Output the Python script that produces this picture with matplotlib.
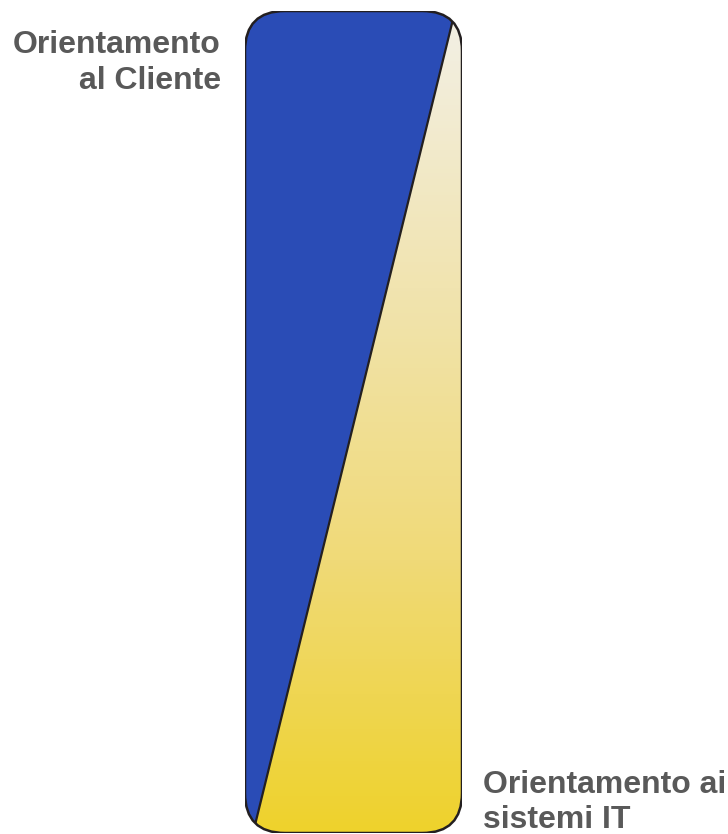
import numpy as np
import matplotlib
matplotlib.use("Agg")
import matplotlib.pyplot as plt
from matplotlib.patches import FancyBboxPatch, Polygon
from matplotlib.colors import LinearSegmentedColormap

# Two orientations and the share of the customer orientation at the top and bottom of the bar
labels = ["Orientamento\nal Cliente", "Orientamento ai\nsistemi IT"]
cliente_share = [0.968, 0.037]   # [top, bottom] fraction of bar width

blue = "#2a4cb6"
grad_colors = ["#f3f0e6", "#f1e4b0", "#f0da78", "#eed22c"]
edge = "#231f20"
text_color = "#595959"

W, H = 728, 834
fig = plt.figure(figsize=(W / 100, H / 100), dpi=100)

# bar frame in pixels
left, top, bw, bh = 245, 11, 217, 822
ax = fig.add_axes([left / W, 1 - (top + bh) / H, bw / W, bh / H])
ax.set_xlim(0, bw)
ax.set_ylim(0, bh)
ax.set_aspect("equal")
ax.axis("off")

frame = FancyBboxPatch((0, 0), bw, bh, boxstyle="round,pad=0,rounding_size=40",
                       facecolor="none", edgecolor="none", transform=ax.transData)
ax.add_patch(frame)

# vertical gradient background
cmap = LinearSegmentedColormap.from_list("grad", grad_colors[::-1])
grad = np.linspace(0, 1, 256).reshape(-1, 1)
im = ax.imshow(grad, cmap=cmap, extent=(0, bw, 0, bh), origin="lower",
               aspect="auto", interpolation="bilinear")
im.set_clip_path(frame)

# customer orientation wedge
x_top = cliente_share[0] * bw
x_bot = cliente_share[1] * bw
wedge = Polygon([(-5, -5), (x_bot, 0), (x_top, bh), (-5, bh + 5)],
                closed=True, facecolor=blue, edgecolor="none")
ax.add_patch(wedge)
wedge.set_clip_path(frame)

ln, = ax.plot([x_bot, x_top], [0, bh], color=edge, lw=1.6, solid_capstyle="butt")
ln.set_clip_path(frame)

border = FancyBboxPatch((0, 0), bw, bh, boxstyle="round,pad=0,rounding_size=40",
                        facecolor="none", edgecolor=edge, linewidth=1.8)
ax.add_patch(border)

font = dict(family=["Liberation Sans", "DejaVu Sans"], fontweight="bold",
            fontsize=23, color=text_color)
fig.text(221 / W, 1 - 30 / H, labels[0], ha="right", va="top",
         linespacing=1.27, **font)
fig.text(483 / W, 1 - 770 / H, labels[1], ha="left", va="top",
         linespacing=1.2, **font)

fig.savefig("out.png", dpi=100)
